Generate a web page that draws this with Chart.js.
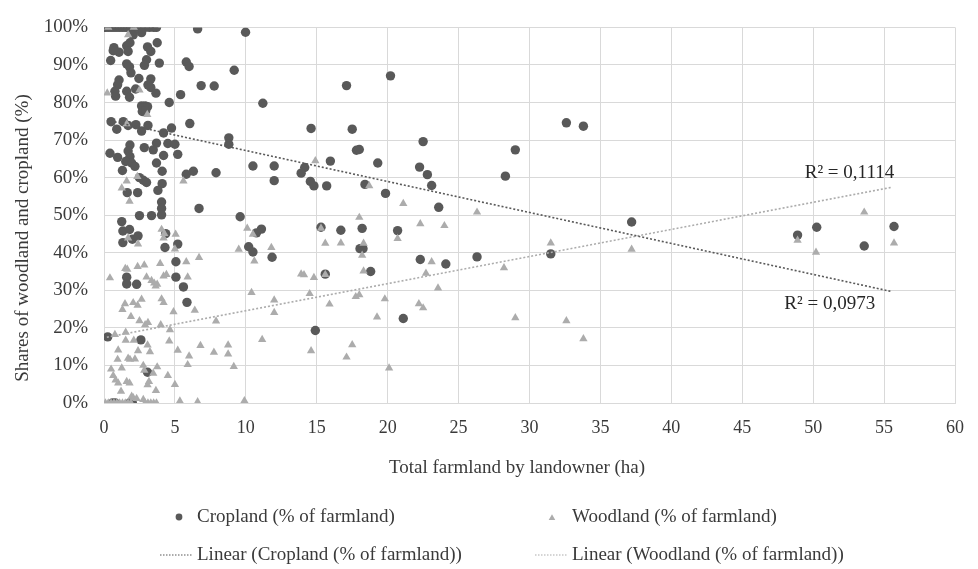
<!DOCTYPE html>
<html>
<head>
<meta charset="utf-8">
<script src="https://cdn.jsdelivr.net/npm/chart.js@4/dist/chart.umd.min.js"></script>
<style>
 html, body { margin: 0; padding: 0; background: #fff; }
 #wrap { width: 978px; height: 569px; }
</style>
</head>
<body>
<div id="wrap"><canvas id="chart" width="978" height="569"></canvas></div>
<script>
// [ha, % of farmland]
const cropland = [
 [0.1,100],[0.3,100],[0.5,100],[0.7,100],[0.9,100],[1.1,100],[1.3,100],[1.5,100],[1.7,100],[1.9,100],
 [2.3,100],[2.6,100],[2.9,100],[3.2,100],[3.5,100],[3.7,100],
 [2.06,98.0],[2.65,98.6],[3.75,95.9],[3.07,94.8],[3.3,93.6],[1.83,95.9],[1.6,95.1],[1.7,93.6],[0.7,94.6],
 [1.06,93.4],[0.65,93.8],[0.47,91.2],[1.6,90.3],[1.8,89.5],[1.9,87.9],[3.0,91.4],[2.85,89.9],[3.9,90.5],
 [2.46,86.4],[3.3,86.3],[1.06,86.0],[0.96,84.7],[3.1,84.7],[3.3,84.0],[0.77,83.0],[0.82,81.7],[1.6,83.0],
 [1.8,81.4],[2.23,83.6],[3.66,82.5],[4.6,80.0],[2.65,79.1],[2.9,79.1],[3.07,78.9],[2.7,77.6],[2.94,77.8],
 [0.5,74.9],[0.9,72.9],[1.36,74.9],[1.7,73.9],[2.25,74.1],[2.65,72.4],[3.1,73.9],[4.2,71.9],[4.76,73.2],
 [1.83,68.7],[2.84,68.0],[3.7,69.2],[4.5,69.1],[5.0,68.9],[0.42,66.5],[0.96,65.4],[1.7,67.1],[1.83,65.6],
 [1.53,64.3],[1.95,63.9],[2.18,63.0],[3.47,67.4],[4.2,65.9],[5.2,66.2],[3.7,63.9],[1.3,61.9],[4.1,61.7],
 [2.5,60.0],[2.77,59.3],[3.0,58.7],[4.1,58.4],[1.64,56.0],[2.37,56.0],[3.8,56.6],[4.06,53.5],[4.06,51.8],
 [4.06,50.1],[2.5,49.9],[3.35,49.9],[1.25,48.3],[1.33,45.8],[1.8,46.2],[1.33,42.7],[2.0,43.6],[2.4,44.5],
 [4.35,45.1],[4.3,41.4],[5.2,42.3],[5.07,37.6],[5.07,33.5],[5.6,30.9],[5.85,26.8],[1.6,33.5],[1.6,31.7],
 [2.3,31.6],[0.26,17.6],[2.6,16.8],[3.07,8.2],[0.6,0],[0.8,0],[1.8,0],[2.0,0],
 [6.6,99.6],[9.98,98.7],[5.8,90.8],[6.0,89.6],[9.18,88.6],[6.85,84.5],[7.77,84.4],[5.4,82.1],[11.2,79.8],
 [17.1,84.5],[20.2,87.1],[6.05,74.4],[14.6,73.1],[17.5,72.9],[8.8,70.6],[8.8,68.9],[5.8,60.9],[6.3,61.7],
 [7.9,61.3],[10.5,63.1],[12.0,63.1],[12.0,59.2],[14.15,62.7],[13.9,61.2],[15.96,64.4],[14.55,59.0],
 [14.8,57.8],[15.7,57.8],[17.8,67.3],[18.0,67.5],[19.3,63.9],[18.4,58.2],[19.85,55.8],[6.7,51.8],
 [22.5,69.6],[32.6,74.6],[33.8,73.7],[29.0,67.4],[28.3,60.4],[22.25,62.8],[22.8,60.8],[23.1,57.9],
 [23.6,52.1],[15.3,46.8],[16.7,46.0],[18.2,46.5],[20.7,45.9],[18.05,41.1],[18.26,41.1],[22.3,38.2],
 [24.1,37.0],[26.3,38.9],[31.5,39.7],[15.6,34.3],[18.8,35.0],[21.1,22.5],[14.9,19.3],[37.2,48.2],
 [48.9,44.7],[50.25,46.8],[53.6,41.8],[55.7,47.0],[9.6,49.6],[10.75,45.3],[11.1,46.3],[10.2,41.6],
 [10.5,40.2],[11.85,38.8]
];

const woodland = [
 [0.3,100],[2.1,100],[1.7,98.0],[0.23,82.5],[2.5,83.3],[3.05,76.8],[1.6,74.3],[5.6,59.1],[1.25,57.2],
 [1.6,59.1],[1.8,53.7],[2.35,60.3],[14.9,64.5],[18.7,57.8],[21.1,53.1],[26.3,50.8],[18.0,49.4],[22.3,47.7],
 [24.0,47.2],[15.3,46.5],[15.6,42.5],[16.7,42.6],[18.3,42.5],[20.7,43.8],[18.2,39.3],[31.5,42.6],[23.1,37.6],
 [28.2,36.0],[13.9,34.3],[14.1,34.1],[14.8,33.4],[15.6,34.2],[18.3,35.1],[22.7,34.5],[23.55,30.6],[14.5,29.1],
 [15.9,26.3],[17.75,28.3],[18.0,28.8],[19.8,27.7],[22.2,26.4],[22.5,25.3],[19.25,22.9],[29.0,22.7],[32.6,21.9],
 [33.8,17.1],[17.5,15.5],[14.6,13.9],[17.1,12.2],[20.1,9.3],[37.2,40.9],[48.9,43.3],[50.2,40.1],[53.6,50.8],
 [55.7,42.6],[6.7,38.7],[10.1,46.5],[10.5,44.9],[9.5,40.9],[11.8,41.4],[10.6,37.8],[10.4,29.4],[12.0,27.4],
 [12.0,24.1],[7.9,21.8],[6.4,24.7],[6.8,15.3],[7.75,13.5],[8.75,15.4],[8.75,13.0],[9.15,9.7],[11.15,16.9],
 [6.6,0.3],[9.9,0.6],[5.05,44.9],[5.0,41.0],[5.8,37.6],[5.9,33.5],[4.9,24.3],[6.0,12.5],[5.9,10.2],[5.2,14.0],
 [5.0,4.9],[5.35,0.5],[4.06,46.2],[4.25,45.1],[1.7,43.9],[2.4,42.3],[4.2,43.9],[1.5,35.8],[1.64,35.6],
 [2.37,36.3],[2.84,36.7],[3.96,37.1],[0.42,33.3],[3.0,33.5],[3.35,32.6],[3.75,31.6],[4.2,33.8],[4.4,34.2],
 [3.54,31.9],[3.64,31.1],[1.48,26.4],[2.06,26.7],[2.37,26.0],[2.65,27.6],[1.3,24.9],[4.06,27.7],[4.2,26.7],
 [1.9,23.0],[2.5,21.9],[2.9,20.8],[3.1,21.4],[4.0,20.8],[4.65,19.5],[0.77,18.2],[1.53,18.8],[1.53,16.7],
 [2.1,16.7],[4.6,16.5],[3.07,15.4],[3.24,13.6],[1.0,14.1],[1.7,11.9],[1.83,11.6],[2.18,11.7],[2.4,13.9],
 [0.96,11.6],[0.5,9.0],[1.25,9.3],[2.77,10.0],[2.84,8.7],[3.75,9.6],[3.47,7.9],[4.5,7.3],[0.65,7.3],
 [0.82,6.1],[1.0,5.3],[1.6,5.7],[1.8,5.3],[3.17,5.7],[3.07,4.8],[3.66,3.3],[1.2,3.1],[1.95,1.8],[2.06,1.4],
 [2.3,1.2],[2.77,0.9],
 [0.1,0],[0.3,0],[0.5,0],[0.7,0],[0.9,0],[1.1,0],[1.3,0],[1.5,0],[1.7,0],[1.9,0],
 [2.9,0],[3.1,0],[3.3,0],[3.5,0],[3.7,0]
];

// linear trend lines, end points
const cropTrend = [[0.2,75.3],[55.5,29.7]];
const woodTrend = [[0.2,17.5],[55.5,57.4]];
const cropR2 = 'R² = 0,0973';
const woodR2 = 'R² = 0,1114';

const xTitle = 'Total farmland by landowner (ha)';
const yTitle = 'Shares of woodland and cropland (%)';
const legendItems = [
 'Cropland (% of farmland)', 'Woodland (% of farmland)',
 'Linear (Cropland (% of farmland))', 'Linear (Woodland (% of farmland))'
];

const SERIF = '"Liberation Serif", "Times New Roman", serif';
const DARK = 'rgb(89,89,89)';
const LIGHT = 'rgb(172,172,172)';
const GRID = '#d9d9d9';
const TEXT = '#3a3a3a';

const toPts = arr => arr.map(([x, y]) => ({ x, y }));

function drawMarker(ctx, style, x, y, r, color) {
 ctx.save();
 ctx.fillStyle = color;
 ctx.beginPath();
 if (style === 'circle') {
 ctx.arc(x, y, r, 0, Math.PI * 2);
 } else {
 ctx.moveTo(x, y - r);
 ctx.lineTo(x + r * 0.866, y + r * 0.5);
 ctx.lineTo(x - r * 0.866, y + r * 0.5);
 ctx.closePath();
 }
 ctx.fill();
 ctx.restore();
}

const extras = {
 id: 'extras',
 afterDraw(chart) {
 const { ctx, scales: { x, y } } = chart;
 ctx.save();
 ctx.fillStyle = TEXT;
 ctx.textBaseline = 'middle';

 // axis titles
 ctx.font = '19px ' + SERIF;
 ctx.textAlign = 'center';
 ctx.fillText(xTitle, 517, 468);
 ctx.save();
 ctx.translate(23, 238);
 ctx.rotate(-Math.PI / 2);
 ctx.fillText(yTitle, 0, 0);
 ctx.restore();

 // R² labels next to trend line ends
 ctx.fillStyle = '#262626';
 ctx.textAlign = 'right';
 const we = woodTrend[1], ce = cropTrend[1];
 ctx.fillText(woodR2, x.getPixelForValue(we[0]) + 3, y.getPixelForValue(we[1]) - 14);
 ctx.fillText(cropR2, x.getPixelForValue(ce[0]) - 16, y.getPixelForValue(ce[1]) + 13);

 // legend, 2 x 2
 ctx.fillStyle = TEXT;
 ctx.textAlign = 'left';
 drawMarker(ctx, 'circle', 179, 517, 3.4, DARK);
 drawMarker(ctx, 'triangle', 552, 518, 3.8, LIGHT);
 ctx.fillText(legendItems[0], 197, 517);
 ctx.fillText(legendItems[1], 572, 517);

 ctx.lineWidth = 1.2;
 ctx.setLineDash([1.5, 1.5]);
 ctx.strokeStyle = DARK;
 ctx.beginPath(); ctx.moveTo(160, 555); ctx.lineTo(193, 555); ctx.stroke();
 ctx.strokeStyle = LIGHT;
 ctx.beginPath(); ctx.moveTo(535, 555); ctx.lineTo(567, 555); ctx.stroke();
 ctx.setLineDash([]);
 ctx.fillText(legendItems[2], 197, 555);
 ctx.fillText(legendItems[3], 572, 555);
 ctx.restore();
 }
};

const bg = {
 id: 'bg',
 beforeDraw(chart) {
 const c = chart.ctx;
 c.save();
 c.fillStyle = '#fff';
 c.fillRect(0, 0, chart.width, chart.height);
 c.restore();
 }
};

new Chart(document.getElementById('chart'), {
 type: 'scatter',
 data: {
 datasets: [
 {
 label: legendItems[2], type: 'line', data: toPts(cropTrend), order: 0,
 borderColor: DARK, borderWidth: 1.6, borderDash: [2, 2], pointRadius: 0, fill: false,
 },
 {
 label: legendItems[3], type: 'line', data: toPts(woodTrend), order: 0,
 borderColor: LIGHT, borderWidth: 1.6, borderDash: [2, 2], pointRadius: 0, fill: false,
 },
 {
 label: legendItems[1], data: toPts(woodland), order: 1,
 pointStyle: 'triangle', pointRadius: 4.8, backgroundColor: LIGHT, borderColor: LIGHT, borderWidth: 0,
 },
 {
 label: legendItems[0], data: toPts(cropland), order: 2,
 pointStyle: 'circle', pointRadius: 4.7, backgroundColor: DARK, borderColor: DARK, borderWidth: 0,
 },
 ],
 },
 options: {
 responsive: false,
 animation: false,
 layout: { padding: { top: 17, right: 22, bottom: 126, left: 0 } },
 plugins: {
 legend: { display: false },
 tooltip: { enabled: false },
 },
 scales: {
 x: {
 type: 'linear', min: 0, max: 60,
 ticks: { stepSize: 5, padding: 14, color: TEXT, font: { family: SERIF, size: 18 } },
 grid: { color: GRID, drawTicks: false },
 border: { color: GRID },
 afterFit: s => { s.height = 40; },
 },
 y: {
 min: 0, max: 100,
 ticks: { stepSize: 10, padding: 16, color: TEXT, font: { family: SERIF, size: 19 }, callback: v => v + '%' },
 grid: { color: GRID, drawTicks: false },
 border: { color: GRID },
 afterFit: s => { s.width = 104; },
 },
 },
 },
 plugins: [bg, extras],
});
</script>
</body>
</html>
